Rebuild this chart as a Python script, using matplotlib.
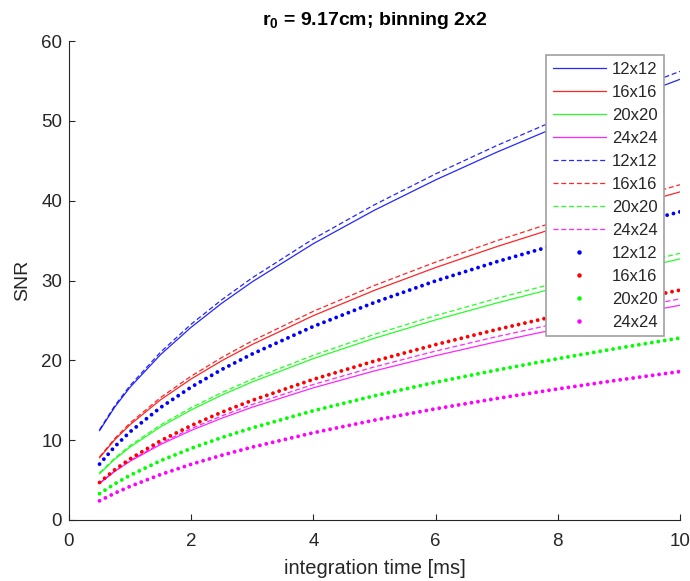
import matplotlib
matplotlib.use("Agg")
import matplotlib.pyplot as plt
from matplotlib.lines import Line2D

plt.rcParams["font.family"] = ["Liberation Sans", "DejaVu Sans"]
plt.rcParams["mathtext.fontset"] = "custom"
plt.rcParams["mathtext.rm"] = "Liberation Sans"
plt.rcParams["mathtext.bf"] = "Liberation Sans:bold"
plt.rcParams["lines.scale_dashes"] = False

# integration time [ms]
t_ms = [0.5, 0.75, 1, 1.5, 2, 2.5, 3, 4, 5, 6, 7, 8, 9, 10]

sizes = ["12x12", "16x16", "20x20", "24x24"]
colors = ["#0000ff", "#ff0000", "#00ff00", "#ff00ff"]

# solid curves
snr_solid_12 = [11.20, 14.16, 16.63, 20.73, 24.15, 27.15, 29.84, 34.62, 38.81, 42.60, 46.07, 49.30, 52.33, 55.2]
snr_solid_16 = [7.80, 10.06, 11.94, 15.07, 17.67, 19.95, 21.99, 25.60, 28.77, 31.62, 34.24, 36.67, 38.95, 41.1]
snr_solid_20 = [5.80, 7.62, 9.14, 11.68, 13.79, 15.64, 17.30, 20.22, 22.77, 25.07, 27.18, 29.14, 30.97, 32.7]
snr_solid_24 = [4.60, 6.10, 7.36, 9.46, 11.22, 12.75, 14.13, 16.56, 18.68, 20.58, 22.33, 23.95, 25.47, 26.9]

# dashed curves
snr_dashed_12 = [11.30, 14.33, 16.85, 21.04, 24.53, 27.59, 30.34, 35.22, 39.49, 43.35, 46.90, 50.19, 53.28, 56.2]
snr_dashed_16 = [7.90, 10.22, 12.15, 15.35, 18.02, 20.35, 22.44, 26.14, 29.38, 32.30, 34.98, 37.46, 39.80, 42.0]
snr_dashed_20 = [5.90, 7.76, 9.32, 11.91, 14.07, 15.96, 17.65, 20.64, 23.25, 25.60, 27.76, 29.76, 31.63, 33.4]
snr_dashed_24 = [4.60, 6.14, 7.44, 9.62, 11.45, 13.04, 14.47, 16.98, 19.18, 21.16, 22.97, 24.64, 26.22, 27.7]

# dotted curves
snr_dotted_12 = [7.00, 9.20, 11.05, 14.10, 16.65, 18.85, 20.80, 24.25, 27.25, 29.95, 32.35, 34.55, 36.65, 38.6]
snr_dotted_16 = [4.70, 6.30, 7.66, 9.93, 11.83, 13.50, 14.99, 17.62, 19.91, 21.97, 23.86, 25.61, 27.25, 28.8]
snr_dotted_20 = [3.30, 4.53, 5.60, 7.43, 8.97, 10.33, 11.54, 13.69, 15.56, 17.25, 18.78, 20.21, 21.54, 22.8]
snr_dotted_24 = [2.40, 3.36, 4.21, 5.70, 6.98, 8.11, 9.13, 10.93, 12.51, 13.93, 15.22, 16.42, 17.54, 18.6]

solid = [snr_solid_12, snr_solid_16, snr_solid_20, snr_solid_24]
dashed = [snr_dashed_12, snr_dashed_16, snr_dashed_20, snr_dashed_24]
dotted = [snr_dotted_12, snr_dotted_16, snr_dotted_20, snr_dotted_24]

fig = plt.figure(figsize=(6.9, 5.81), dpi=100)
ax = fig.add_axes([69 / 690, 61 / 581, 611 / 690, 479 / 581])

axis_grey = "#262626"
handles = []
for ys, c, lab in zip(solid, colors, sizes):
    ax.plot(t_ms, ys, color=c, lw=0.9, alpha=0.85)
    handles.append(Line2D([], [], color=c, lw=0.9, alpha=0.85, label=lab))
for ys, c, lab in zip(dashed, colors, sizes):
    ax.plot(t_ms, ys, color=c, lw=0.9, alpha=0.85, dashes=(3.6, 2.0))
    handles.append(Line2D([], [], color=c, lw=0.9, alpha=0.85, dashes=(3.6, 2.0), label=lab))
for ys, c, lab in zip(dotted, colors, sizes):
    ax.plot(t_ms, ys, color=c, lw=2.8, dashes=(0.01, 4.7), dash_capstyle="round")
    handles.append(Line2D([], [], color=c, ls="none", marker="o", markersize=3.2,
                          markeredgewidth=0, label=lab))

ax.set_xlim(0, 10)
ax.set_ylim(0, 60)
ax.set_xticks(range(0, 11, 2))
ax.set_yticks(range(0, 61, 10))
for s in ("top", "right"):
    ax.spines[s].set_visible(False)
for s in ("left", "bottom"):
    ax.spines[s].set_color(axis_grey)
    ax.spines[s].set_linewidth(0.8)
ax.tick_params(direction="in", length=4, width=0.8, colors=axis_grey,
               labelsize=13.5, pad=5, top=False, right=False)
ax.tick_params(axis="x", pad=9)

ax.set_xlabel("integration time [ms]", fontsize=14.5, color=axis_grey, labelpad=7)
ax.set_ylabel("SNR", fontsize=14, color=axis_grey, labelpad=7)
ax.set_title(r"$\mathbf{r_0}$ = 9.17cm; binning 2x2", fontsize=14,
             fontweight="bold", color="black", pad=11.5)

leg = ax.legend(handles=handles, loc="upper left",
                bbox_to_anchor=(546 / 690, 1 - 55 / 581), bbox_transform=fig.transFigure,
                borderaxespad=0, fontsize=12, handlelength=3.2, handletextpad=0.35,
                labelspacing=0.48, borderpad=0.4, fancybox=False, framealpha=1,
                edgecolor="#a0a0a0")
leg.get_frame().set_linewidth(1.2)
for txt in leg.get_texts():
    txt.set_color(axis_grey)

fig.savefig("out.png", dpi=100)
